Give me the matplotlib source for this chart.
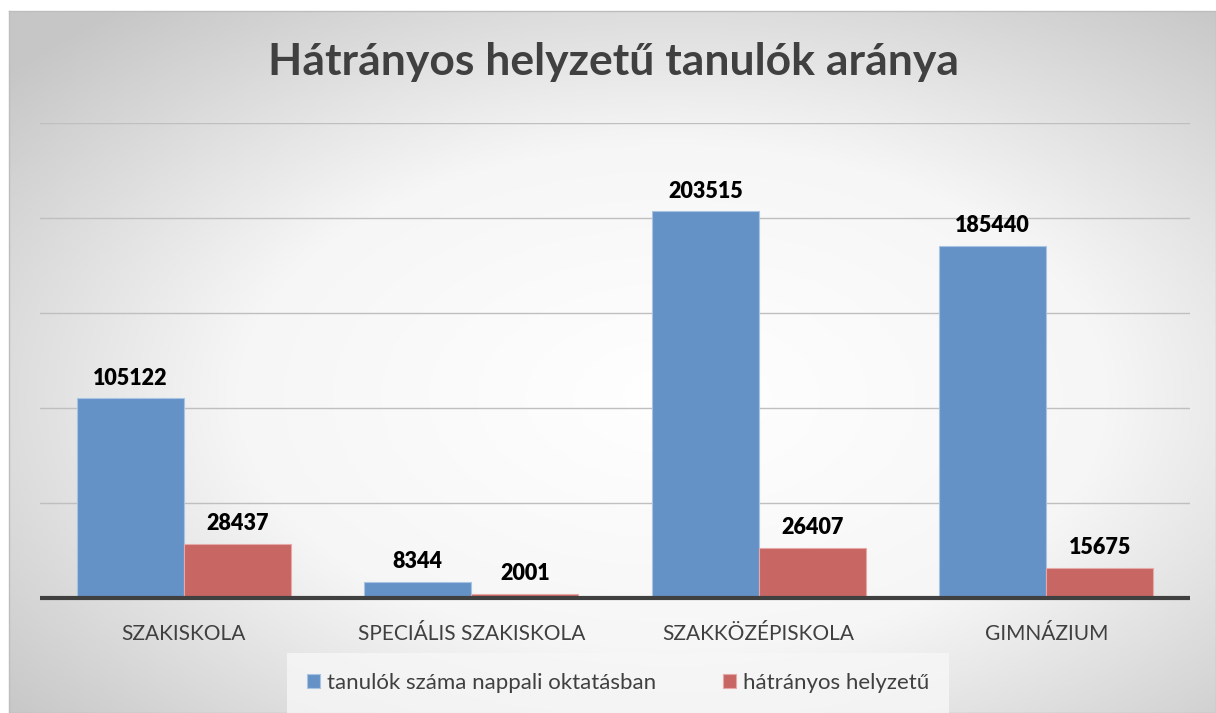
import numpy as np
import matplotlib
matplotlib.use('Agg')
import matplotlib.pyplot as plt
from matplotlib.colors import LinearSegmentedColormap

plt.rcParams['font.family'] = ['Lato', 'DejaVu Sans']

## Data
categories = ['SZAKISKOLA', 'SPECIÁLIS SZAKISKOLA', 'SZAKKÖZÉPISKOLA', 'GIMNÁZIUM']
total_students = [105122, 8344, 203515, 185440]
disadvantaged = [28437, 2001, 26407, 15675]
series_names = ['tanulók száma nappali oktatásban', 'hátrányos helyzetű']
title = 'Hátrányos helyzetű tanulók aránya'

BLUE = '#6592c6'
RED = '#c86664'

W, H = 1216, 713
fig = plt.figure(figsize=(W / 100, H / 100), dpi=100)
fig.patch.set_facecolor('white')

# radial gradient background panel
bg = fig.add_axes([9 / W, 0, 1 - 9 / W, (H - 11) / H], zorder=-1)
nx, ny = 400, 240
xx, yy = np.meshgrid(np.linspace(-1, 1, nx), np.linspace(-1, 1, ny))
rr = np.sqrt((xx - 0.1) ** 2 + (yy - 0.1) ** 2)
cmap = LinearSegmentedColormap.from_list('bg', ['#ffffff', '#f6f6f6', '#c6c6c6'])
bg.imshow(np.clip(rr / 1.45, 0, 1), cmap=cmap, vmin=0, vmax=1, aspect='auto',
          extent=[0, 1, 0, 1], interpolation='bilinear')
bg.set_xticks([])
bg.set_yticks([])
for s in bg.spines.values():
    s.set_color('#bdbdbd')
    s.set_linewidth(1)

ax = fig.add_axes([40 / W, 1 - 598 / H, 1150 / W, (598 - 123) / H])
ax.patch.set_alpha(0)

x = np.arange(len(categories))
bw = 0.372
b1 = ax.bar(x - bw / 2, total_students, bw, color=BLUE, edgecolor='#a9c3e3',
            linewidth=0.8, zorder=3)
b2 = ax.bar(x + bw / 2, disadvantaged, bw, color=RED, edgecolor='#e6a9a8',
            linewidth=0.8, zorder=3)

for bars, vals in ((b1, total_students), (b2, disadvantaged)):
    for b, v in zip(bars, vals):
        ax.annotate(str(v), (b.get_x() + b.get_width() / 2, v),
                    xytext=(0, 7), textcoords='offset points',
                    ha='center', va='bottom', fontsize=15.5, fontweight='heavy',
                    color='black')

ax.set_xlim(-0.5, len(categories) - 0.5)
ax.set_ylim(0, 250000)
ax.set_yticks(np.arange(0, 250001, 50000))
ax.yaxis.grid(True, color='#bfbfbf', linewidth=1, zorder=0)
ax.tick_params(axis='y', left=False, labelleft=False)
ax.tick_params(axis='x', bottom=False, pad=15)
ax.set_xticks(x)
ax.set_xticklabels(categories, fontsize=15, color='#404040')
for side in ('top', 'right', 'left', 'bottom'):
    ax.spines[side].set_visible(False)
ax.axhline(0, color='#404040', linewidth=3, zorder=4, clip_on=False,
           solid_capstyle='butt')

fig.text(614 / W, 1 - 62 / H, title, ha='center', va='center',
         fontsize=32, fontweight='bold', color='#404040')

leg = fig.legend([b1, b2], series_names, loc='center',
                 bbox_to_anchor=(618 / W, 1 - 683 / H), ncol=2,
                 fontsize=16, frameon=True, handlelength=0.6, handleheight=0.6,
                 handletextpad=0.3, columnspacing=3.0, borderpad=0.6)
leg.get_frame().set_facecolor('#f7f7f7')
leg.get_frame().set_edgecolor('none')
leg.get_frame().set_alpha(0.8)
leg.get_frame().set_boxstyle('square', pad=0.3)
for t in leg.get_texts():
    t.set_color('#404040')

fig.savefig('out.png', dpi=100)
